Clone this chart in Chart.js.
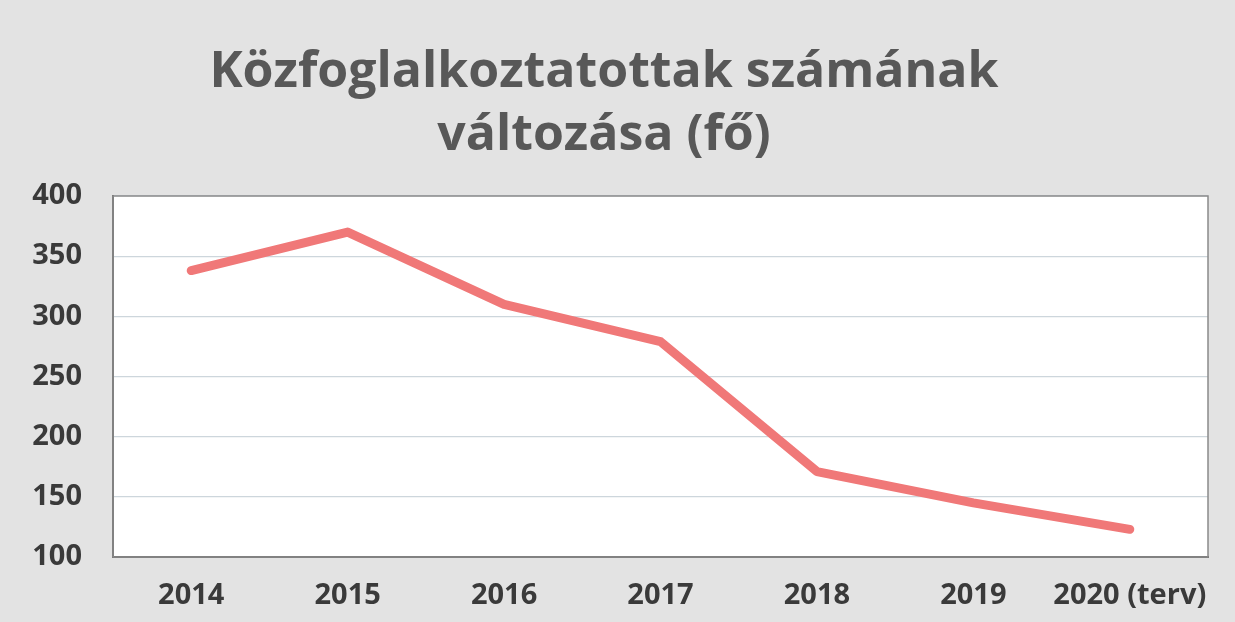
<!DOCTYPE html>
<html>
<head>
<meta charset="utf-8">
<script src="https://cdn.jsdelivr.net/npm/chart.js@4/dist/chart.umd.min.js"></script>
<style>
  html, body { margin: 0; padding: 0; }
  body { width: 1235px; height: 622px; background: #e3e3e3; overflow: hidden; }
  #wrap { position: relative; width: 1235px; height: 622px; }
</style>
</head>
<body>
<div id="wrap"><canvas id="c" width="1235" height="622"></canvas></div>
<script>
const titleLines = ['Közfoglalkoztatottak számának', 'változása (fő)'];
const categories = ['2014', '2015', '2016', '2017', '2018', '2019', '2020 (terv)'];
const values = [338, 370, 310, 279, 171, 145, 123];
const yTicks = [100, 150, 200, 250, 300, 350, 400];

const plotBg = {
  id: 'plotBg',
  beforeDraw(chart) {
    const { ctx, chartArea: a } = chart;
    ctx.save();
    ctx.fillStyle = '#ffffff';
    ctx.fillRect(a.left, a.top, a.right - a.left, a.bottom - a.top);
    ctx.restore();
  },
  afterDraw(chart) {
    const { ctx, chartArea: a } = chart;
    ctx.save();
    ctx.strokeStyle = '#8a8a8a';
    ctx.lineWidth = 1.5;
    ctx.strokeRect(a.left, a.top, a.right - a.left, a.bottom - a.top);
    ctx.restore();
  }
};

new Chart(document.getElementById('c'), {
  type: 'line',
  data: {
    labels: categories,
    datasets: [{
      data: values,
      borderColor: '#f07878',
      borderWidth: 9,
      borderCapStyle: 'round',
      borderJoinStyle: 'round',
      pointRadius: 0,
      tension: 0,
      fill: false
    }]
  },
  options: {
    responsive: false,
    animation: false,
    layout: { padding: { left: 0, right: 27, top: 0, bottom: 0 } },
    plugins: {
      legend: { display: false },
      tooltip: { enabled: false },
      title: {
        display: true,
        text: titleLines,
        color: '#585858',
        font: { family: 'Open Sans', size: 50, weight: 'bold', lineHeight: 1.26 },
        padding: { top: 41, bottom: 29 }
      }
    },
    scales: {
      x: {
        offset: true,
        grid: { display: false, drawTicks: false },
        border: { display: true, color: '#6a6a6a', width: 2 },
        ticks: {
          color: '#3a3a3a',
          padding: 21,
          maxRotation: 0,
          font: { family: 'Open Sans', size: 29, weight: 'bold' }
        },
        afterFit(s) { s.height = 65; }
      },
      y: {
        min: 100,
        max: 400,
        afterBuildTicks(s) { s.ticks = yTicks.map(v => ({ value: v })); },
        grid: { color: '#cdd6dc', lineWidth: 1.2, drawTicks: false },
        border: { display: true, color: '#6a6a6a', width: 2 },
        ticks: {
          color: '#3a3a3a',
          padding: 31,
          font: { family: 'Open Sans', size: 29, weight: 'bold' }
        },
        afterFit(s) { s.width = 113; }
      }
    }
  },
  plugins: [plotBg]
});
</script>
</body>
</html>
